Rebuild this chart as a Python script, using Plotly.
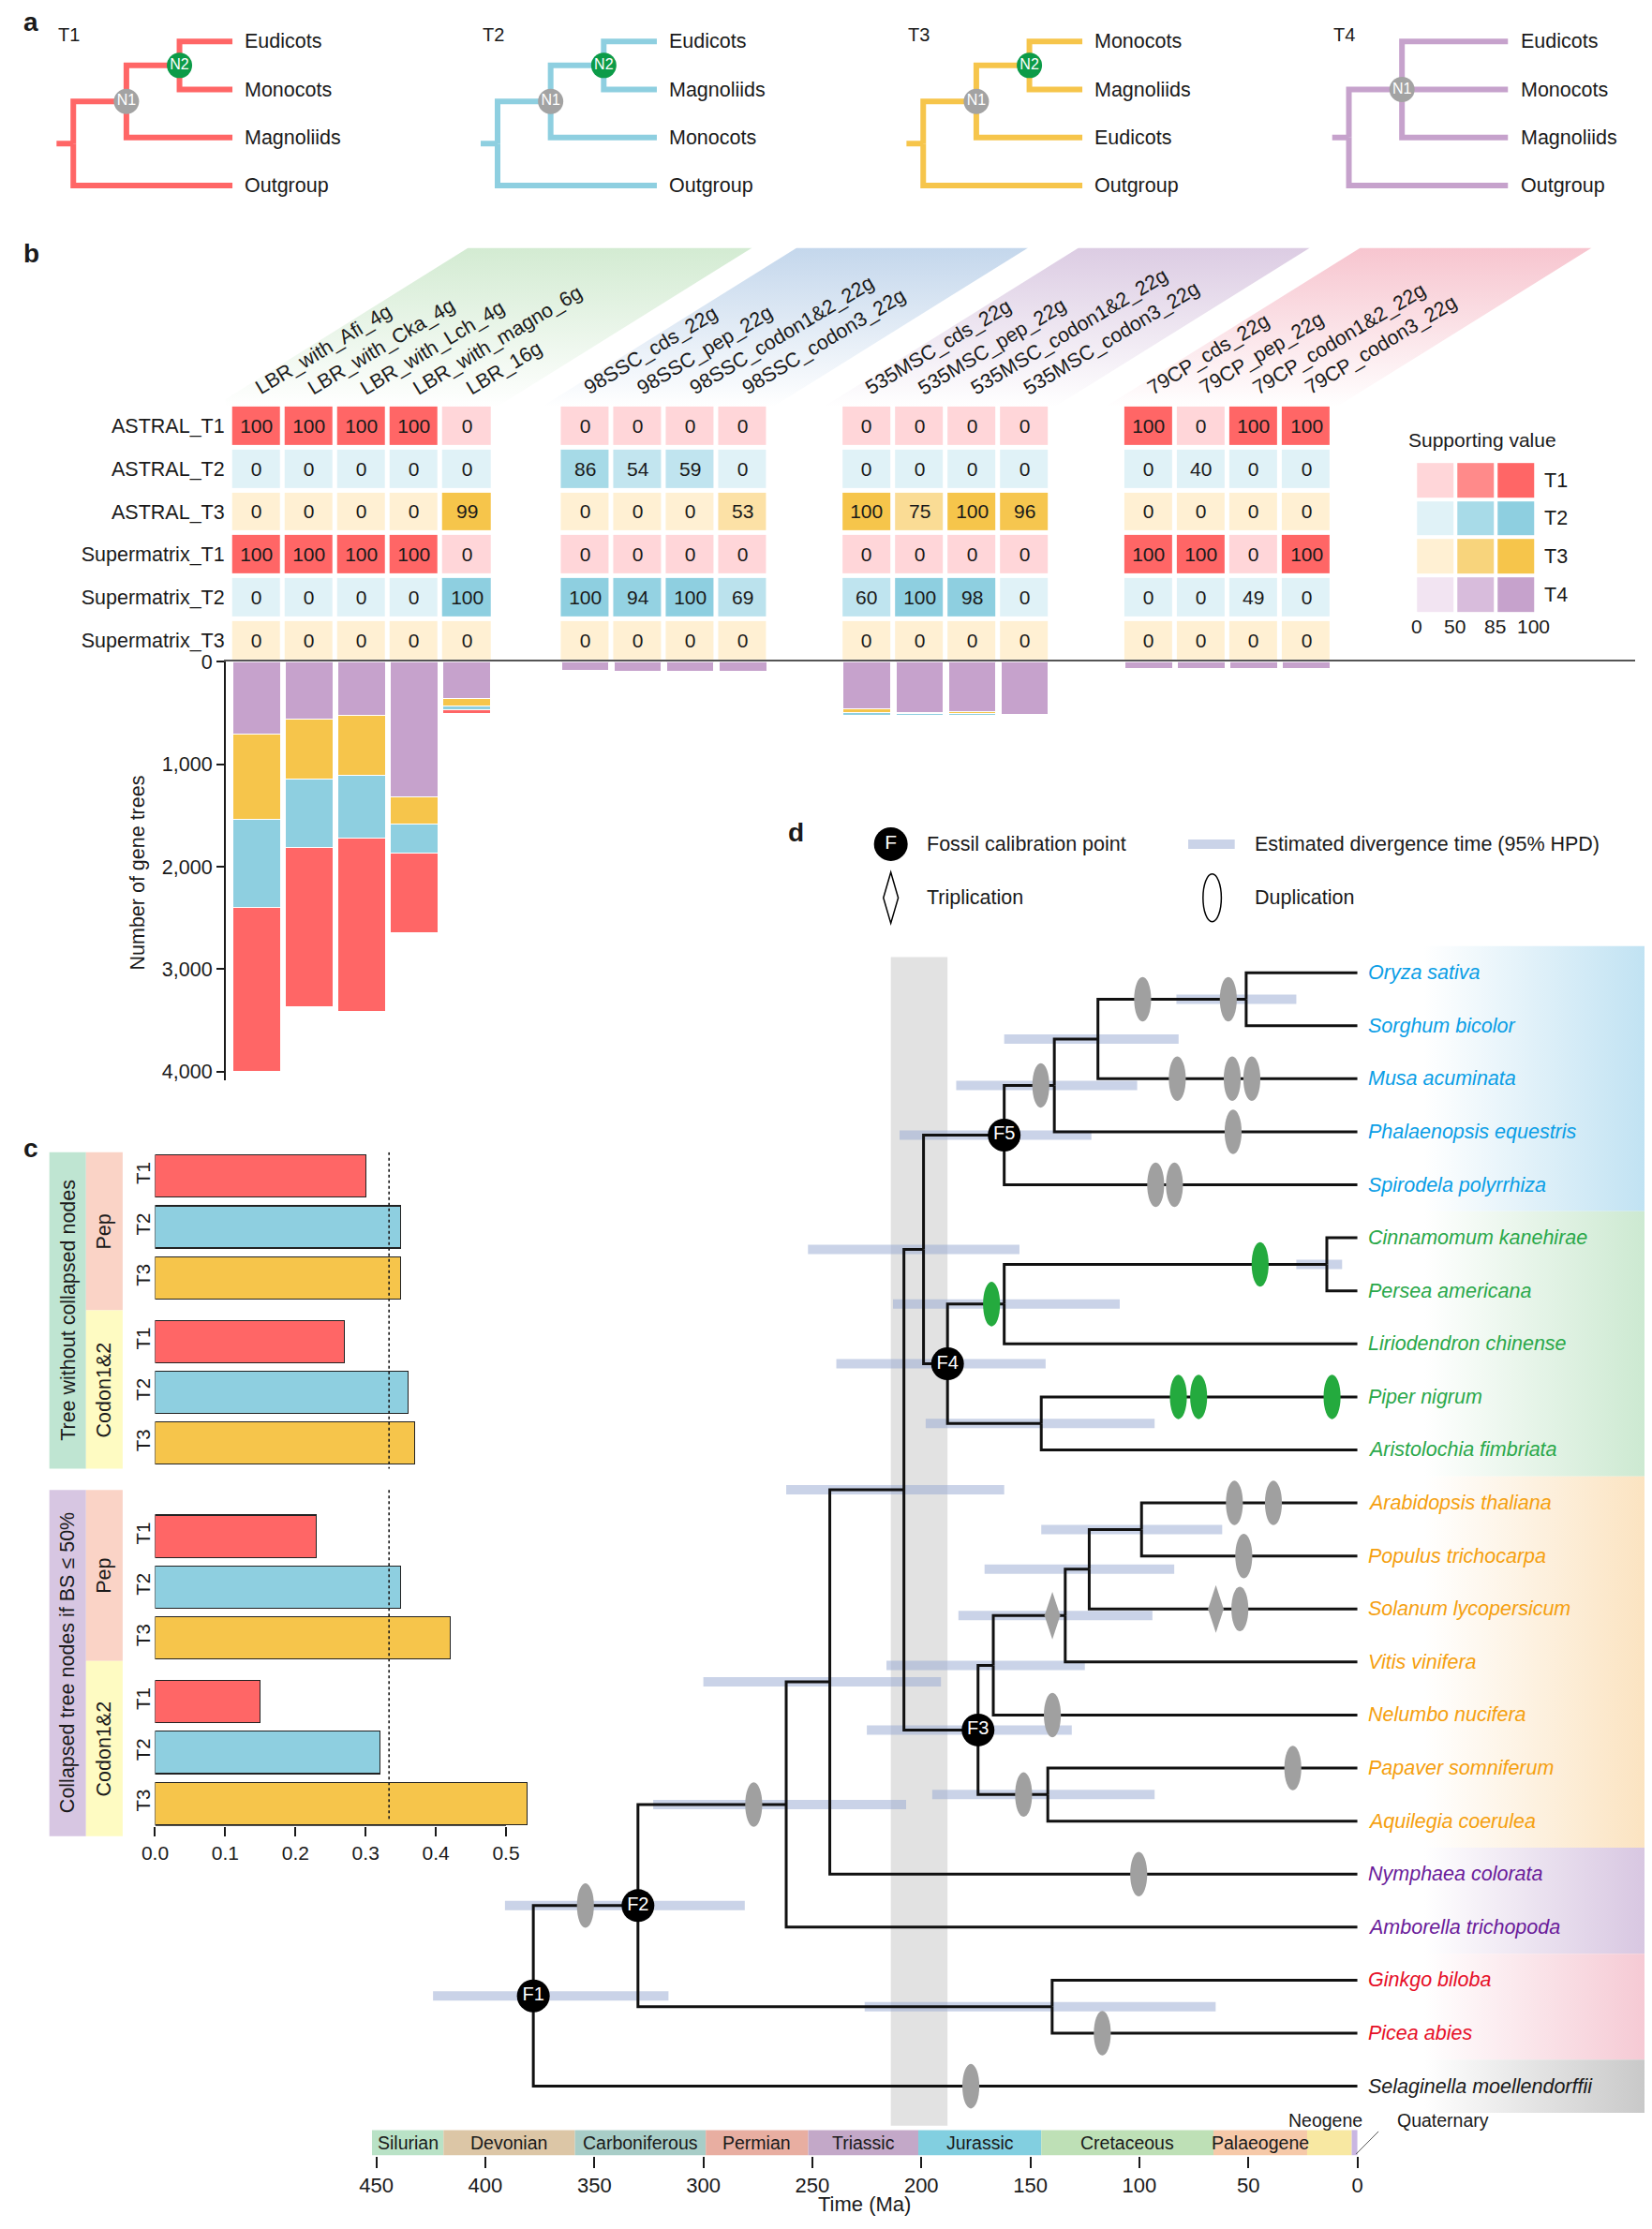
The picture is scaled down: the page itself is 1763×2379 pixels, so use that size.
import plotly.graph_objects as go

W, H = 1763, 2379
OFF = 8                      # default body margin of the page
FW, FH = W - 2 * OFF, H - 2 * OFF
K = W / 1162.0
FONT = "Liberation Sans, Arial, Helvetica, sans-serif"
INK = "#1a1a1a"

# ---------------- panel a data ----------------
a_titles = ["T1", "T2", "T3", "T4"]
a_trees = [
    ((("Eudicots", "Monocots"), "Magnoliids"), "Outgroup"),
    ((("Eudicots", "Magnoliids"), "Monocots"), "Outgroup"),
    ((("Monocots", "Magnoliids"), "Eudicots"), "Outgroup"),
    (("Eudicots", "Monocots", "Magnoliids"), "Outgroup"),
]
a_colors = ["#FF6666", "#8ECFE0", "#F6C54B", "#C6A2CC"]
a_node_colors = {"N1": "#A3A3A3", "N2": "#0C9B48"}

# ---------------- panel b data ----------------
b_rows = ["ASTRAL_T1", "ASTRAL_T2", "ASTRAL_T3", "Supermatrix_T1", "Supermatrix_T2", "Supermatrix_T3"]
b_row_topology = [0, 1, 2, 0, 1, 2]
b_columns = ["LBR_with_Afi_4g", "LBR_with_Cka_4g", "LBR_with_Lch_4g", "LBR_with_magno_6g", "LBR_16g",
             "98SSC_cds_22g", "98SSC_pep_22g", "98SSC_codon1&2_22g", "98SSC_codon3_22g",
             "535MSC_cds_22g", "535MSC_pep_22g", "535MSC_codon1&2_22g", "535MSC_codon3_22g",
             "79CP_cds_22g", "79CP_pep_22g", "79CP_codon1&2_22g", "79CP_codon3_22g"]
b_col_group = [0] * 5 + [1] * 4 + [2] * 4 + [3] * 4
supp_astral_t1 = [100, 100, 100, 100, 0, 0, 0, 0, 0, 0, 0, 0, 0, 100, 0, 100, 100]
supp_astral_t2 = [0, 0, 0, 0, 0, 86, 54, 59, 0, 0, 0, 0, 0, 0, 40, 0, 0]
supp_astral_t3 = [0, 0, 0, 0, 99, 0, 0, 0, 53, 100, 75, 100, 96, 0, 0, 0, 0]
supp_super_t1 = [100, 100, 100, 100, 0, 0, 0, 0, 0, 0, 0, 0, 0, 100, 100, 0, 100]
supp_super_t2 = [0, 0, 0, 0, 100, 100, 94, 100, 69, 60, 100, 98, 0, 0, 0, 49, 0]
supp_super_t3 = [0] * 17
b_count_T4 = [708, 561, 524, 1323, 362, 81, 90, 96, 93, 461, 497, 488, 515, 62, 66, 66, 66]
b_count_T3 = [829, 587, 585, 260, 69, 7, 3, 0, 0, 33, 12, 21, 8, 2, 1, 1, 1]
b_count_T2 = [862, 661, 612, 280, 39, 6, 2, 0, 0, 31, 12, 18, 2, 2, 1, 1, 1]
b_count_T1 = [1598, 1561, 1688, 781, 36, 2, 1, 0, 3, 6, 10, 3, 6, 9, 7, 7, 7]
b_ticks = [0, 1000, 2000, 3000, 4000]
b_group_colors = ["#D3EBD2", "#C4D7EC", "#DCCCE3", "#F7C5CF"]
legend_levels = ["0", "50", "85", "100"]

# ---------------- panel c data ----------------
c_set = ["Tree without collapsed nodes", "Collapsed tree nodes if BS ≤ 50%"]
c_data = ["Pep", "Codon1&2"]
c_topology = ["T1", "T2", "T3"] * 4
c_values = [0.30, 0.35, 0.35, 0.27, 0.36, 0.37, 0.23, 0.35, 0.42, 0.15, 0.32, 0.53]
c_threshold = 1 / 3
c_ticks = [0.0, 0.1, 0.2, 0.3, 0.4, 0.5]

# ---------------- panel d data ----------------
leaf_names = ["Oryza sativa", "Sorghum bicolor", "Musa acuminata", "Phalaenopsis equestris",
              "Spirodela polyrrhiza", "Cinnamomum kanehirae", "Persea americana",
              "Liriodendron chinense", "Piper nigrum", "Aristolochia fimbriata",
              "Arabidopsis thaliana", "Populus trichocarpa", "Solanum lycopersicum",
              "Vitis vinifera", "Nelumbo nucifera", "Papaver somniferum", "Aquilegia coerulea",
              "Nymphaea colorata", "Amborella trichopoda", "Ginkgo biloba", "Picea abies",
              "Selaginella moellendorffii"]
leaf_clade = ["mono"] * 5 + ["magno"] * 5 + ["eudi"] * 7 + ["basal"] * 2 + ["gymno"] * 2 + ["lyco"]
clade_order = ["mono", "magno", "eudi", "basal", "gymno", "lyco"]
clade_text_color = ["#0A9EE6", "#2AA84A", "#F5A00F", "#6A1B9A", "#E60F28", "#1a1a1a"]
clade_band_color = ["#BEE1F2", "#CAE8CF", "#FBE2BE", "#D6C4E0", "#F5C7D2", "#C6C6C6"]

node_names = ["OS", "OSM", "OSMP", "F5", "CP", "CPL", "PA", "F4", "MM", "AP", "APS", "APSV",
              "CORE", "PAQ", "F3", "MME", "MMEN", "ANG", "GYM", "F2", "F1"]
node_children = [["Oryza sativa", "Sorghum bicolor"], ["OS", "Musa acuminata"],
                 ["OSM", "Phalaenopsis equestris"], ["OSMP", "Spirodela polyrrhiza"],
                 ["Cinnamomum kanehirae", "Persea americana"], ["CP", "Liriodendron chinense"],
                 ["Piper nigrum", "Aristolochia fimbriata"], ["CPL", "PA"], ["F5", "F4"],
                 ["Arabidopsis thaliana", "Populus trichocarpa"], ["AP", "Solanum lycopersicum"],
                 ["APS", "Vitis vinifera"], ["APSV", "Nelumbo nucifera"],
                 ["Papaver somniferum", "Aquilegia coerulea"], ["CORE", "PAQ"], ["MM", "F3"],
                 ["MME", "Nymphaea colorata"], ["MMEN", "Amborella trichopoda"],
                 ["Ginkgo biloba", "Picea abies"], ["ANG", "GYM"],
                 ["F2", "Selaginella moellendorffii"]]
node_age = [51, 119, 139, 162, 14, 162, 145, 188, 199, 99, 123, 134, 167, 142, 174, 208, 242,
            262, 140, 330, 378]
node_hpd_old = [83, 162, 184, 210, 28, 213, 198, 239, 252, 145, 171, 183, 216, 195, 225, 262,
                300, 323, 226, 391, 424]
node_hpd_young = [28, 82, 101, 122, 7, 109, 93, 143, 155, 62, 84, 94, 125, 93, 131, 162, 191,
                  207, 65, 281, 316]
fossil_nodes = ["F1", "F2", "F3", "F4", "F5"]

dup_branch = ["OS", "OS", "Musa acuminata", "Musa acuminata", "Musa acuminata", "OSMP",
              "Phalaenopsis equestris", "Spirodela polyrrhiza", "Spirodela polyrrhiza", "CP",
              "CPL", "Piper nigrum", "Piper nigrum", "Piper nigrum", "Arabidopsis thaliana",
              "Arabidopsis thaliana", "Populus trichocarpa", "Solanum lycopersicum",
              "Nelumbo nucifera", "Papaver somniferum", "PAQ", "Nymphaea colorata", "ANG", "F2",
              "Picea abies", "Selaginella moellendorffii"]
dup_age = [98.5, 59.2, 82.6, 57.4, 48.4, 145.2, 57.0, 92.5, 83.9, 44.6, 167.8, 82.1, 72.8, 11.6,
           56.4, 38.5, 52.1, 53.9, 139.9, 29.6, 153.1, 100.3, 276.9, 354.1, 117.0, 177.3]
dup_magnoliid = [False] * 9 + [True] * 5 + [False] * 12
trip_branch = ["APSV", "Solanum lycopersicum"]
trip_age = [139.9, 64.9]

periods = ["Silurian", "Devonian", "Carboniferous", "Permian", "Triassic", "Jurassic",
           "Cretaceous", "Palaeogene", "Neogene", "Quaternary"]
period_start = [452, 419.2, 358.9, 298.9, 251.9, 201.4, 145.0, 66.0, 23.03, 2.58]
period_end = [419.2, 358.9, 298.9, 251.9, 201.4, 145.0, 66.0, 23.03, 2.58, 0.0]
period_color = ["#B9E2C6", "#DCC6A6", "#A8CDC7", "#E8AEA1", "#C3A8C8", "#82CFE0", "#BEE0B6",
                "#F6C9A9", "#F8E8A2", "#C9B6E2"]
time_ticks = [450, 400, 350, 300, 250, 200, 150, 100, 50, 0]
tj_window = [214, 188]


# ---------------- helpers ----------------
def PX(s):
    return (s * K - OFF) / FW


def PY(s):
    return 1 - (s * K - OFF) / FH


fig = go.Figure()
LAY = {}
ANN = []
SH = []


def ax(n, xs, ys, xr, yr, xo=None, yo=None):
    k = "" if n == 1 else str(n)
    xa = dict(domain=[max(0, PX(xs[0])), min(1, PX(xs[1]))], range=xr, anchor="y" + k, visible=False,
              showgrid=False, zeroline=False, fixedrange=True)
    ya = dict(domain=[max(0, PY(ys[1])), min(1, PY(ys[0]))], range=yr, anchor="x" + k, visible=False,
              showgrid=False, zeroline=False, fixedrange=True)
    if xo:
        xa.update(xo)
    if yo:
        ya.update(yo)
    LAY["xaxis" + k] = xa
    LAY["yaxis" + k] = ya
    return "x" + k, "y" + k


def note(text, x, y, xref="paper", yref="paper", size=21, color=INK, xanchor="center",
         yanchor="middle", angle=0, xshift=0, yshift=0):
    ANN.append(dict(text=text, x=x, y=y, xref=xref, yref=yref, showarrow=False,
                    font=dict(family=FONT, size=size, color=color), xanchor=xanchor,
                    yanchor=yanchor, textangle=angle, xshift=xshift, yshift=yshift))


def hexmix(a, b, t):
    a = a.lstrip("#")
    b = b.lstrip("#")
    ca = [int(a[i:i + 2], 16) for i in (0, 2, 4)]
    cb = [int(b[i:i + 2], 16) for i in (0, 2, 4)]
    return "#%02X%02X%02X" % tuple(round(ca[i] + (cb[i] - ca[i]) * t) for i in range(3))


PAL = [("#FFD6D9", "#FF8A8A", "#FF6666"), ("#E0F2F7", "#A8DBE8", "#8ECFE0"),
       ("#FFF0D3", "#F8D47C", "#F6C54B"), ("#F2E4F2", "#D8BCDC", "#C6A2CC")]


def cell_color(tree, v):
    lt, md, dk = PAL[tree]
    if v < 50:
        return lt
    if v < 85:
        return hexmix(hexmix(lt, md, 0.5), md, (v - 50) / 35 * 0.6)
    return hexmix(md, dk, min(1.0, (v - 85) / 12))


# panel labels
note("<b>a</b>", PX(5.5), PY(8), size=28, xanchor="left")
note("<b>b</b>", PX(5.5), PY(172), size=28, xanchor="left")
note("<b>c</b>", PX(5.5), PY(805), size=28, xanchor="left")
note("<b>d</b>", PX(555), PY(582), size=28)

# ================= panel a =================
a_root_s = [42, 343, 645, 947]
UNIT_A = 37.7


def layout_a(tree):
    leaves, segs, nodes = [], [], []

    def rec(t, depth):
        if isinstance(t, str):
            y = len(leaves)
            leaves.append((t, y))
            return (3.0, float(y))
        kids = [rec(c, depth + 1) for c in t]
        y = sum(k[1] for k in kids) / len(kids)
        x = float(depth)
        for kx, ky in kids:
            segs.append(([x, x, kx], [y, ky, ky]))
        if depth > 0:
            nodes.append((x, y, "N%d" % depth))
        return (x, y)

    rx, ry = rec(tree, 0)
    segs.append(([-12 / UNIT_A, rx], [ry, ry]))
    return leaves, segs, nodes


for i, tree in enumerate(a_trees):
    r = a_root_s[i]
    xa_, ya_ = ax(7 + i, (r - 12, r + 113), (12, 134), [-12 / UNIT_A, 3], [3 + 10 / 34, -10 / 34])
    leaves, segs, nodes = layout_a(tree)
    xs, ys = [], []
    for sx, sy_ in segs:
        xs += sx + [None]
        ys += sy_ + [None]
    fig.add_trace(go.Scatter(x=xs, y=ys, mode="lines", line=dict(color=a_colors[i], width=6),
                             xaxis=xa_, yaxis=ya_, cliponaxis=False, hoverinfo="skip"))
    fig.add_trace(go.Scatter(x=[n[0] for n in nodes], y=[n[1] for n in nodes], mode="markers+text",
                             marker=dict(size=27, color=[a_node_colors[n[2]] for n in nodes]),
                             text=[n[2] for n in nodes], textposition="middle center",
                             textfont=dict(family=FONT, size=16, color="white"),
                             xaxis=xa_, yaxis=ya_, cliponaxis=False, hoverinfo="skip"))
    for name, yv in leaves:
        note(name, 3, yv, xref=xa_, yref=ya_, xanchor="left", xshift=11, size=21.5)
    note(a_titles[i], PX(r - 12), PY(17), xanchor="left", size=20)

# ================= panel b =================
C0 = 172
PITCH = 37.3
group_start = [0, 6.25, 11.61, 16.97]
col_x = []
for gi in range(4):
    n = b_col_group.count(gi)
    col_x += [group_start[gi] + j for j in range(n)]
xr_b = [(150 - C0) / PITCH, (1150 - C0) / PITCH]

supp_rows = [supp_astral_t1, supp_astral_t2, supp_astral_t3, supp_super_t1, supp_super_t2,
             supp_super_t3]

# header bands
xb3, yb3 = ax(3, (150, 1150), (168, 280), xr_b, [0, 1])
SHIFT = 180 / PITCH
for gi in range(4):
    xs_g = [col_x[j] for j in range(17) if b_col_group[j] == gi]
    x0, x1 = xs_g[0] - 0.8, xs_g[-1] + 0.6
    fig.add_trace(go.Scatter(x=[x0, x1, x1 + SHIFT, x0 + SHIFT, x0], y=[0, 0, 1, 1, 0],
                             mode="lines", fill="toself", line=dict(width=0, color="rgba(0,0,0,0)"),
                             fillgradient=dict(type="vertical",
                                               colorscale=[[0, "rgba(255,255,255,1)"],
                                                           [1, b_group_colors[gi]]],
                                               start=0, stop=1),
                             xaxis=xb3, yaxis=yb3, hoverinfo="skip"))

# heatmap
xb2, yb2 = ax(2, (150, 1150), (279, 461), xr_b, [5.5, -0.5],
              yo=dict(visible=True, tickvals=list(range(6)), ticktext=b_rows, ticks="",
                      showline=False, tickfont=dict(family=FONT, size=21.5, color=INK)))
cell_cols = []
for ri in range(6):
    for j in range(17):
        c = cell_color(b_row_topology[ri], supp_rows[ri][j])
        if c not in cell_cols:
            cell_cols.append(c)
NC = len(cell_cols)
cscale = []
for k, c in enumerate(cell_cols):
    cscale.append([k / NC, c])
    cscale.append([(k + 1) / NC, c])
for gi in range(4):
    idx = [j for j in range(17) if b_col_group[j] == gi]
    z = [[cell_cols.index(cell_color(b_row_topology[ri], supp_rows[ri][j])) + 0.5 for j in idx]
         for ri in range(6)]
    txt = [[str(supp_rows[ri][j]) for j in idx] for ri in range(6)]
    fig.add_trace(go.Heatmap(x=[col_x[j] for j in idx], y=list(range(6)), z=z, text=txt,
                             texttemplate="%{text}",
                             textfont=dict(family=FONT, size=21, color=INK),
                             colorscale=cscale, zmin=0, zmax=NC, showscale=False,
                             xgap=5, ygap=5, hoverinfo="skip", xaxis=xb2, yaxis=yb2))
for j in range(17):
    note(b_columns[j], col_x[j], PY(277), xref=xb2, xanchor="left", yanchor="bottom",
         angle=-31, xshift=-8, size=21.5)

# stacked bars
xb4, yb4 = ax(4, (150, 1150), (461, 757), xr_b, [4083, 0],
              xo=dict(visible=True, side="top", showline=True, linecolor="#555", linewidth=2,
                      ticks="", showticklabels=False),
              yo=dict(visible=True, showline=True, linecolor=INK, linewidth=1.5, ticks="outside",
                      ticklen=8, tickwidth=1.5, tickcolor=INK, tickvals=b_ticks,
                      ticktext=["{:,}".format(v) for v in b_ticks],
                      tickfont=dict(family=FONT, size=21.5, color=INK)))
for counts, tcol in [(b_count_T4, a_colors[3]), (b_count_T3, a_colors[2]),
                     (b_count_T2, a_colors[1]), (b_count_T1, a_colors[0])]:
    fig.add_trace(go.Bar(x=col_x, y=counts, width=0.9,
                         marker=dict(color=tcol, line=dict(color="white", width=1)),
                         xaxis=xb4, yaxis=yb4, hoverinfo="skip"))
note("Number of gene trees", PX(88), PY(610), angle=-90, size=21.5)

# supporting value legend
xb5, yb5 = ax(5, (994, 1080), (319, 427), [-0.5, 2.5], [3.5, -0.5])
leg_cols = []
for t in range(4):
    for c in PAL[t]:
        leg_cols.append(c)
NL = len(leg_cols)
lscale = []
for k, c in enumerate(leg_cols):
    lscale.append([k / NL, c])
    lscale.append([(k + 1) / NL, c])
fig.add_trace(go.Heatmap(x=[0, 1, 2], y=[0, 1, 2, 3],
                         z=[[t * 3 + l + 0.5 for l in range(3)] for t in range(4)],
                         colorscale=lscale, zmin=0, zmax=NL, showscale=False, xgap=4, ygap=4,
                         hoverinfo="skip", xaxis=xb5, yaxis=yb5))
for t in range(4):
    note("T%d" % (t + 1), PX(1084), t, yref=yb5, xanchor="left", size=21.5)
note("Supporting value", PX(988), PY(304), xanchor="left", size=21)
for lab, xs_ in zip(legend_levels, [995, 1022, 1051, 1078]):
    note(lab, PX(xs_), PY(436), size=21)

# ================= panel c =================
c_pos = []
p = 0.0
for k in range(12):
    if k > 0:
        p += 1
        if k % 3 == 0:
            p += 0.25
        if k == 6:
            p += 0.58
    c_pos.append(p)
C_YB = 12.78
c_xmax = 0.5 * (366 - 100) / (349 - 100)
xc, yc = ax(6, (100, 366), (808, 1285), [0, c_xmax], [C_YB, -0.47],
            xo=dict(visible=True, showline=False, ticks="outside",
                    ticklen=10, tickwidth=1.5, tickcolor=INK, tickvals=c_ticks,
                    ticktext=["%.1f" % v for v in c_ticks],
                    tickfont=dict(family=FONT, size=21, color=INK)),
            yo=dict(visible=True, tickvals=c_pos, ticktext=c_topology, tickangle=-90, ticks="",
                    showline=False, tickfont=dict(family=FONT, size=20.5, color=INK)))
topo_color = {"T1": a_colors[0], "T2": a_colors[1], "T3": a_colors[2]}
fig.add_trace(go.Bar(x=c_values, y=c_pos, orientation="h", width=0.83,
                     marker=dict(color=[topo_color[t] for t in c_topology],
                                 line=dict(color="#222", width=1.2)),
                     xaxis=xc, yaxis=yc, hoverinfo="skip"))
fig.add_trace(go.Scatter(x=[c_threshold, c_threshold, None, c_threshold, c_threshold],
                         y=[-0.47, 5.75, None, 6.17, 12.64], mode="lines",
                         line=dict(color=INK, width=1.6, dash="dot"),
                         xaxis=xc, yaxis=yc, hoverinfo="skip"))
fig.add_trace(go.Scatter(x=[c_ticks[0], c_ticks[-1]], y=[C_YB, C_YB], mode="lines",
                         line=dict(color=INK, width=1.5), cliponaxis=False,
                         xaxis=xc, yaxis=yc, hoverinfo="skip"))
strip_outer = [(808, 1032, "#BFE5D2"), (1047, 1292, "#D7C6E2")]
strip_inner = [(808, 920, "#FAD3C6"), (920, 1032, "#FEFBC2"), (1047, 1168, "#FAD3C6"),
               (1168, 1292, "#FEFBC2")]
for k, (a0, a1, col) in enumerate(strip_outer):
    SH.append(dict(type="rect", xref="paper", yref="paper", x0=PX(25), x1=PX(51), y0=PY(a1),
                   y1=PY(a0), fillcolor=col, line=dict(width=0), layer="below"))
    note(c_set[k], PX(38), PY((a0 + a1) / 2), angle=-90, size=21.5)
for k, (a0, a1, col) in enumerate(strip_inner):
    SH.append(dict(type="rect", xref="paper", yref="paper", x0=PX(51), x1=PX(77), y0=PY(a1),
                   y1=PY(a0), fillcolor=col, line=dict(width=0), layer="below"))
    note(c_data[k % 2], PX(64), PY((a0 + a1) / 2), angle=-90, size=21.5)

# ================= panel d =================
YU = 21 / 788.0
ytop = (570 - 681) * YU
ybot = 21 + (1518 - 1469) * YU
MA_PER_S = 450 / 696.0
right_s = (FW + OFF) / K
xr_d = [450 + 17 * MA_PER_S, -(right_s - 953) * MA_PER_S]
xd, yd = ax(1, (240, right_s), (570, 1518), xr_d, [ybot, ytop],
            xo=dict(visible=True, showline=False, ticks="outside", ticklen=12, tickwidth=1.5,
                    tickcolor=INK, tickvals=time_ticks, ticktext=[str(v) for v in time_ticks],
                    tickfont=dict(family=FONT, size=22, color=INK)))


def sy(s):
    return (s - 681) * YU


leaf_index = {n: i for i, n in enumerate(leaf_names)}
pos = {}


def get_pos(name):
    if name in leaf_index:
        return (0.0, float(leaf_index[name]))
    if name in pos:
        return pos[name]
    k = node_names.index(name)
    ys_ = [get_pos(c)[1] for c in node_children[k]]
    pos[name] = (float(node_age[k]), sum(ys_) / len(ys_))
    return pos[name]


for nname in node_names:
    get_pos(nname)

# Triassic-Jurassic window
SH.append(dict(type="rect", xref=xd, yref=yd, x0=tj_window[0], x1=tj_window[1], y0=sy(670),
               y1=sy(1497), fillcolor="#E2E2E2", line=dict(width=0), layer="below"))
# geological time scale
for k in range(len(periods)):
    SH.append(dict(type="rect", xref=xd, yref=yd, x0=period_start[k], x1=period_end[k],
                   y0=sy(1500), y1=ybot, fillcolor=period_color[k], line=dict(width=0),
                   layer="below"))
    if k < 8:
        note(periods[k], (period_start[k] + period_end[k]) / 2, (sy(1500) + ybot) / 2,
             xref=xd, yref=yd, size=19.5)
note(periods[8], (period_start[8] + period_end[8]) / 2 + 2, sy(1493), xref=xd, yref=yd, size=19.5)
note(periods[9], period_end[9], sy(1493), xref=xd, yref=yd, size=19.5, xanchor="left", xshift=40)
fig.add_trace(go.Scatter(x=[period_end[9] + 0.6, period_end[9] - 9.7], y=[sy(1517), sy(1501)],
                         mode="lines", line=dict(color="#555", width=1), xaxis=xd, yaxis=yd,
                         hoverinfo="skip"))

# clade bands
for ci, cl in enumerate(clade_order):
    idx = [i for i, c in enumerate(leaf_clade) if c == cl]
    y0, y1 = idx[0] - 0.5, idx[-1] + 0.5
    bx0, bx1 = -1.5, xr_d[1]
    fig.add_trace(go.Scatter(x=[bx0, bx1, bx1, bx0, bx0], y=[y0, y0, y1, y1, y0], mode="lines",
                             fill="toself", line=dict(width=0, color="rgba(0,0,0,0)"),
                             fillgradient=dict(type="horizontal",
                                               colorscale=[[0, "rgba(255,255,255,1)"],
                                                           [0.2, "rgba(255,255,255,1)"],
                                                           [1, clade_band_color[ci]]],
                                               start=0, stop=xr_d[1]),
                             xaxis=xd, yaxis=yd, hoverinfo="skip"))

# HPD bars
hx, hy = [], []
for k, nname in enumerate(node_names):
    yv = pos[nname][1]
    hx += [node_hpd_old[k], node_hpd_young[k], None]
    hy += [yv, yv, None]
HPD_COL = "rgba(150,168,210,0.5)"
fig.add_trace(go.Scatter(x=hx, y=hy, mode="lines", line=dict(color=HPD_COL, width=10),
                         xaxis=xd, yaxis=yd, hoverinfo="skip"))

# tree branches
tx, ty = [], []
for k, nname in enumerate(node_names):
    nx_, ny_ = pos[nname]
    for c in node_children[k]:
        cx, cy = get_pos(c)
        tx += [nx_, nx_, cx, None]
        ty += [ny_, cy, cy, None]
fig.add_trace(go.Scatter(x=tx, y=ty, mode="lines", line=dict(color="#111", width=3),
                         xaxis=xd, yaxis=yd, hoverinfo="skip"))

# duplications (ellipses) and triplications (diamonds)
EW, EH = 3.9, 0.42
for b, a, mg in zip(dup_branch, dup_age, dup_magnoliid):
    yv = get_pos(b)[1]
    SH.append(dict(type="circle", xref=xd, yref=yd, x0=a + EW, x1=a - EW, y0=yv - EH,
                   y1=yv + EH, fillcolor="#24AA3E" if mg else "#A0A0A0", line=dict(width=0)))
DW, DH = 3.6, 0.45
for b, a in zip(trip_branch, trip_age):
    yv = get_pos(b)[1]
    SH.append(dict(type="path", xref=xd, yref=yd,
                   path="M %f,%f L %f,%f L %f,%f L %f,%f Z" % (a, yv - DH, a - DW, yv, a, yv + DH,
                                                              a + DW, yv),
                   fillcolor="#A0A0A0", line=dict(width=0)))

# fossil calibration points
fig.add_trace(go.Scatter(x=[pos[f][0] for f in fossil_nodes], y=[pos[f][1] for f in fossil_nodes],
                         mode="markers+text", marker=dict(size=35, color="black"),
                         text=fossil_nodes, textposition="middle center",
                         textfont=dict(family=FONT, size=20, color="white"),
                         xaxis=xd, yaxis=yd, cliponaxis=False, hoverinfo="skip"))

# tip labels
for i, nm in enumerate(leaf_names):
    ci = clade_order.index(leaf_clade[i])
    note("<i>%s</i>" % nm, 0, i, xref=xd, yref=yd, xanchor="left", xshift=9,
         color=clade_text_color[ci], size=21.5)

# panel d legend
ly1, ly2 = sy(590), sy(628)
lx_sym = 450 - (622 - 257) * MA_PER_S
lx_txt = 450 - (646 - 257) * MA_PER_S
lx_bar = [450 - (833 - 257) * MA_PER_S, 450 - (866 - 257) * MA_PER_S]
lx_ell = 450 - (850 - 257) * MA_PER_S
lx_txt2 = 450 - (879 - 257) * MA_PER_S
fig.add_trace(go.Scatter(x=[lx_sym], y=[ly1], mode="markers+text", marker=dict(size=36, color="black"),
                         text=["F"], textposition="middle center",
                         textfont=dict(family=FONT, size=21, color="white"),
                         xaxis=xd, yaxis=yd, cliponaxis=False, hoverinfo="skip"))
fig.add_trace(go.Scatter(x=lx_bar, y=[ly1, ly1], mode="lines", line=dict(color=HPD_COL, width=10),
                         xaxis=xd, yaxis=yd, hoverinfo="skip"))
note("Fossil calibration point", lx_txt, ly1, xref=xd, yref=yd, xanchor="left", size=21.5)
note("Estimated divergence time (95% HPD)", lx_txt2, ly1, xref=xd, yref=yd, xanchor="left", size=21.5)
SH.append(dict(type="path", xref=xd, yref=yd,
               path="M %f,%f L %f,%f L %f,%f L %f,%f Z" % (lx_sym, ly2 - 0.48, lx_sym - 3.4, ly2,
                                                          lx_sym, ly2 + 0.48, lx_sym + 3.4, ly2),
               fillcolor="white", line=dict(color="black", width=1.5)))
SH.append(dict(type="circle", xref=xd, yref=yd, x0=lx_ell + 4.2, x1=lx_ell - 4.2, y0=ly2 - 0.45,
               y1=ly2 + 0.45, fillcolor="white", line=dict(color="black", width=1.5)))
note("Triplication", lx_txt, ly2, xref=xd, yref=yd, xanchor="left", size=21.5)
note("Duplication", lx_txt2, ly2, xref=xd, yref=yd, xanchor="left", size=21.5)
note("Time (Ma)", PX(603), 0, size=22, yanchor="bottom", yshift=1)

fig.update_layout(width=FW, height=FH, margin=dict(l=0, r=0, t=0, b=0), paper_bgcolor="white",
                  plot_bgcolor="rgba(0,0,0,0)", showlegend=False, barmode="stack",
                  annotations=ANN, shapes=SH, font=dict(family=FONT, size=20, color=INK), **LAY)

fig.write_html("out.html", config={"displayModeBar": False})
